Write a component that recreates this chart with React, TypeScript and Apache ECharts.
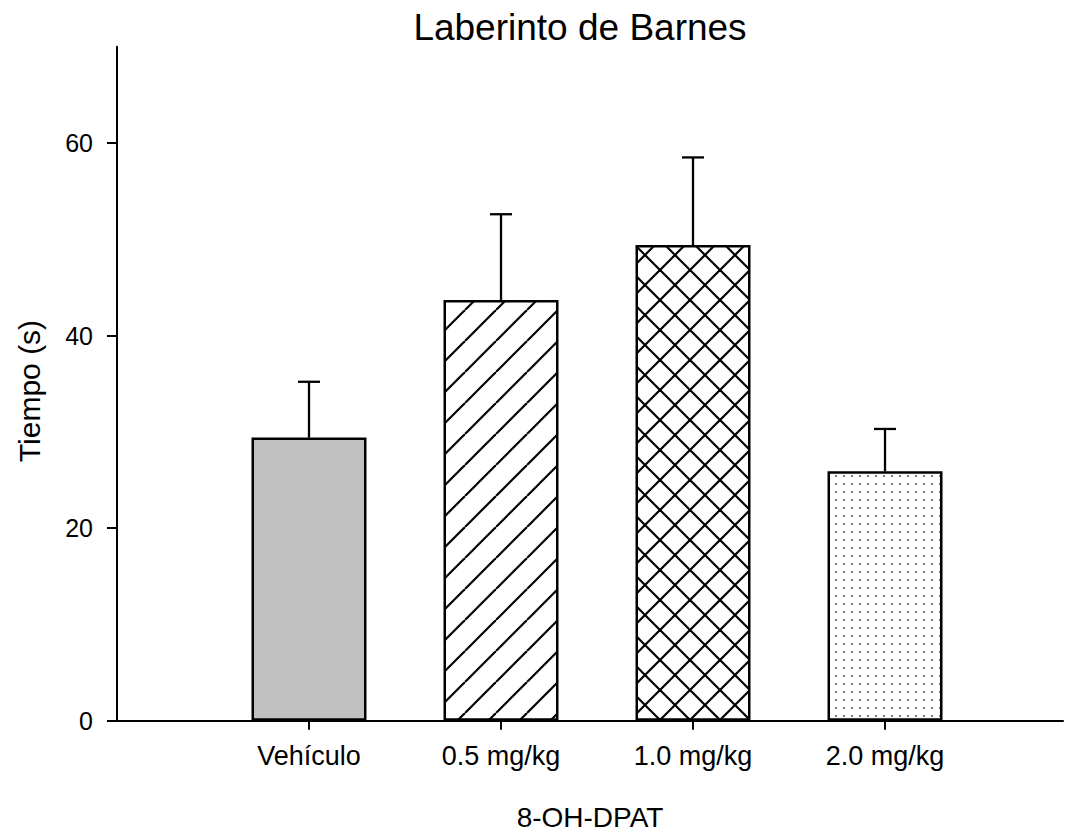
import React, { useEffect, useRef } from "react";
import * as echarts from "echarts";

// Treatment groups, mean latency (s) and standard error per group
const categories = ["Vehículo", "0.5 mg/kg", "1.0 mg/kg", "2.0 mg/kg"];
const positions = [1, 2, 3, 4];
const means = [29.4, 43.7, 49.4, 25.9];
const sems = [5.8, 8.9, 9.1, 4.4];
const yTicks = [0, 20, 40, 60];

const FONT = "'Liberation Sans', Arial, sans-serif";

function makeTile(size: number, draw: (ctx: CanvasRenderingContext2D) => void) {
  const c = document.createElement("canvas");
  c.width = size;
  c.height = size;
  const ctx = c.getContext("2d")!;
  ctx.fillStyle = "#fff";
  ctx.fillRect(0, 0, size, size);
  draw(ctx);
  return { image: c.toDataURL(), repeat: "repeat", imageWidth: size, imageHeight: size } as any;
}

function hatch(size: number, forward: boolean, backward: boolean) {
  return makeTile(size, (ctx) => {
    ctx.strokeStyle = "#000";
    ctx.lineWidth = 2.2;
    for (let k = -1; k <= 1; k++) {
      if (forward) {
        ctx.beginPath();
        ctx.moveTo(k * size, size);
        ctx.lineTo(k * size + size, 0);
        ctx.stroke();
      }
      if (backward) {
        ctx.beginPath();
        ctx.moveTo(k * size, 0);
        ctx.lineTo(k * size + size, size);
        ctx.stroke();
      }
    }
  });
}

function dots(size: number) {
  return makeTile(size, (ctx) => {
    ctx.fillStyle = "#7a7a7a";
    ctx.fillRect(size / 2 - 1, size / 2 - 1, 2, 2);
  });
}

export default function App() {
  const ref = useRef<HTMLDivElement>(null);

  useEffect(() => {
    if (!ref.current) return;
    const chart = echarts.init(ref.current, null, { renderer: "svg" });

    const fills = ["#c0c0c0", hatch(31, true, false), hatch(30, true, true), dots(8)];

    chart.setOption({
      animation: false,
      backgroundColor: "#fff",
      textStyle: { fontFamily: FONT },
      grid: {
        left: 117,
        right: 5,
        top: 46.7,
        bottom: 113.3,
        containLabel: false,
        outerBoundsMode: "none",
      },
      graphic: [
        {
          type: "text",
          x: 580,
          y: 27,
          style: {
            text: "Laberinto de Barnes",
            font: `37px ${FONT}`,
            fill: "#000",
            textAlign: "center",
            textVerticalAlign: "middle",
          },
        },
        {
          type: "text",
          x: 29,
          y: 391,
          rotation: Math.PI / 2,
          style: {
            text: "Tiempo (s)",
            font: `30px ${FONT}`,
            fill: "#000",
            textAlign: "center",
            textVerticalAlign: "middle",
          },
        },
      ],
      xAxis: {
        type: "value",
        min: 0,
        max: 4.927,
        name: "8-OH-DPAT",
        nameLocation: "middle",
        nameGap: 83,
        nameTextStyle: { color: "#000", fontSize: 28, fontFamily: FONT },
        splitLine: { show: false },
        axisLine: { show: true, lineStyle: { color: "#000", width: 2 } },
        axisTick: { show: true, length: 9, lineStyle: { color: "#000", width: 2 }, customValues: positions },
        axisLabel: {
          customValues: positions,
          color: "#000",
          fontSize: 27,
          fontFamily: FONT,
          margin: 22,
          formatter: (v: number) => categories[Math.round(v) - 1] ?? "",
        },
      },
      yAxis: {
        type: "value",
        min: 0,
        max: 70,
        splitLine: { show: false },
        axisLine: { show: true, lineStyle: { color: "#000", width: 2 } },
        axisTick: { show: true, length: 10, lineStyle: { color: "#000", width: 2 }, customValues: yTicks },
        axisLabel: { customValues: yTicks, color: "#000", fontSize: 25, fontFamily: FONT, margin: 24 },
      },
      series: [
        {
          type: "bar",
          barWidth: 115,
          data: positions.map((x, i) => ({
            value: [x, means[i]],
            itemStyle: { color: fills[i], borderColor: "#000", borderWidth: 2.5 },
          })),
          z: 2,
        },
        {
          type: "custom",
          z: 3,
          data: positions.map((x, i) => [x, means[i], sems[i]]),
          renderItem: (_params: any, api: any) => {
            const x = api.value(0);
            const m = api.value(1);
            const e = api.value(2);
            const base = api.coord([x, m]);
            const top = api.coord([x, m + e]);
            const style = { stroke: "#000", lineWidth: 2.3, fill: "none" };
            return {
              type: "group",
              children: [
                { type: "line", shape: { x1: base[0], y1: base[1], x2: top[0], y2: top[1] }, style },
                { type: "line", shape: { x1: top[0] - 11, y1: top[1], x2: top[0] + 11, y2: top[1] }, style },
              ],
            };
          },
        },
      ],
    });

    return () => chart.dispose();
  }, []);

  return (
    <div
      ref={ref}
      style={{ position: "absolute", left: 0, top: 0, width: 1068, height: 834, background: "#fff" }}
    />
  );
}
